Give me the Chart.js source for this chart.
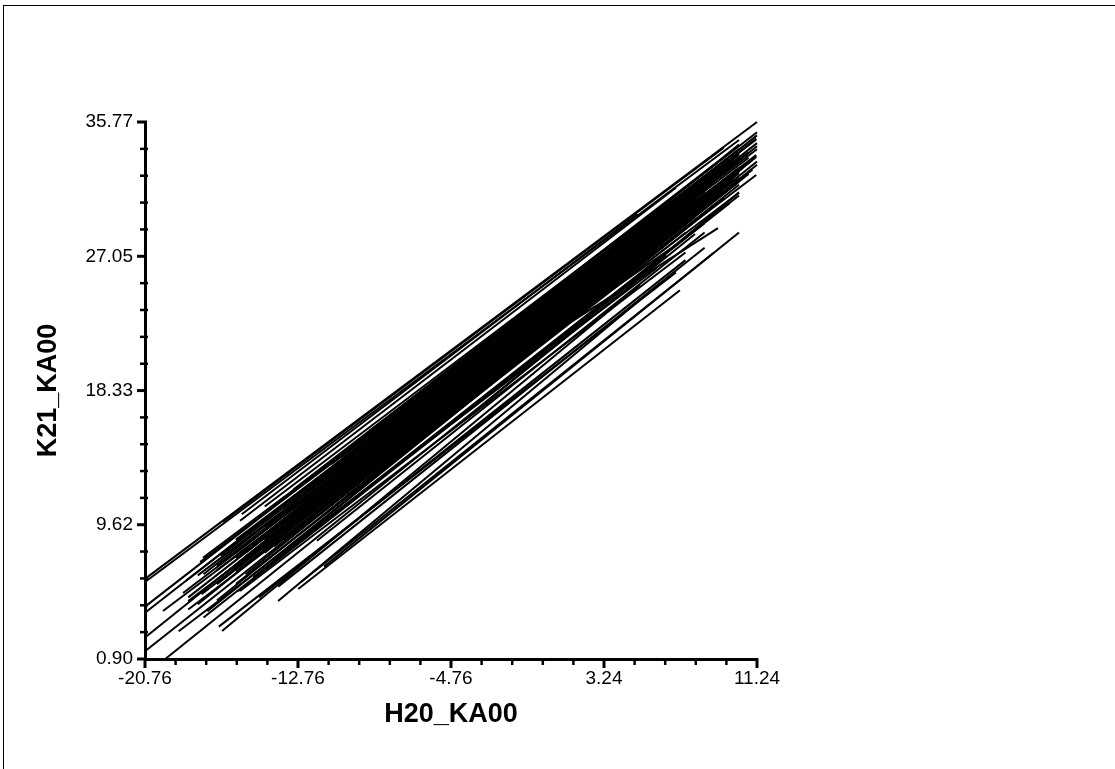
<!DOCTYPE html>
<html>
<head>
<meta charset="utf-8">
<script src="https://cdn.jsdelivr.net/npm/chart.js@4/dist/chart.umd.min.js"></script>
<style>
  html, body { margin: 0; padding: 0; background: #fff; overflow: hidden; }
  #frame { position: absolute; left: 3px; top: 5px; width: 2000px; height: 2000px;
           border-top: 1px solid #000; border-left: 1px solid #000; }
  #wrap { position: absolute; left: 0; top: 0; width: 1115px; height: 769px; }
</style>
</head>
<body>
<div id="frame"></div>
<div id="wrap"><canvas id="chart" width="1115" height="769"></canvas></div>
<script>
// axis ticks
const xTickValues = [-20.76, -12.76, -4.76, 3.24, 11.24];
const xTickLabels = ['-20.76', '-12.76', '-4.76', '3.24', '11.24'];
const yTickValues = [0.90, 9.62, 18.33, 27.05, 35.77];
const yTickLabels = ['0.90', '9.62', '18.33', '27.05', '35.77'];

// line segments (start / end)
const segStartX = [-20.76, -20.76, -16.70, -15.70, -20.76, -20.76, -20.76, -20.76, -19.70, -17.88,
                   -17.70, -17.80, -17.50, -17.70, -18.77, -19.82, -16.80, -16.20, -15.50, -15.10,
                   -14.50, -14.00, -13.40, -12.80, -12.20, -11.60, -11.00, -10.30, -9.70, -9.00,
                   -8.40, -7.70, -7.00, -15.90, -14.80, -13.80, -12.60, -11.40, -16.90, -19.00,
                   -16.73, -13.80, -12.75, -2.00, -6.00, -11.77, -15.79, -17.73, -15.79, -14.50,
                   -13.00, -10.50, -6.00, -4.00, -18.60, -16.00, -5.00, -3.00,
                   -16.0, -13.5, -18.5, -11.0, -17.0, -14.5, -12.0, -9.5, -18.5, -16.0,
                   -13.5, -11.0, -17.0, -14.5, -12.0, -9.5, -18.0, -16.0, -13.5, -11.0,
                   -17.0, -14.5, -12.0, -9.5, -18.5, -16.0, -13.5, -11.0, -17.0, -14.5,
                   -12.0, -9.5, -18.0, -16.0, -13.5, -11.0, -17.0, -14.5, -12.0, -9.5,
                   -16.0, -13.5, -11.0, -15.0, -12.5, -9.0, -15.5, -10.0, -15.5, -7.0,
                   -6.0, -6.0, -8.0, -4.0, -5.0, -10.0];
const segStartY = [6.10, 5.90, 9.80, 10.30, 4.30, 3.90, 2.30, 1.40, 0.90, 7.20,
                   6.40, 5.10, 4.00, 3.60, 5.19, 4.02, 7.60, 6.80, 7.80, 6.20,
                   8.90, 8.20, 9.70, 9.40, 10.60, 10.30, 11.20, 11.40, 12.30, 12.60,
                   13.20, 13.80, 14.60, 5.30, 4.90, 5.60, 5.90, 6.90, 3.00, 2.70,
                   2.72, 4.67, 5.45, 20.00, 16.50, 8.58, 5.32, 7.47, 9.88, 10.80,
                   11.90, 14.00, 18.00, 19.50, 6.00, 8.60, 16.00, 17.50,
                   5.78, 7.90, 4.11, 10.93, 4.70, 8.17, 10.26, 12.50, 4.66, 6.58,
                   8.65, 11.86, 5.76, 7.80, 11.07, 13.18, 4.45, 7.46, 9.45, 11.60,
                   6.67, 8.63, 10.75, 13.87, 4.90, 6.90, 10.26, 12.33, 6.05, 9.47,
                   11.51, 13.70, 6.33, 7.78, 9.85, 13.06, 6.96, 9.00, 12.27, 14.38,
                   8.66, 10.70, 13.56, 9.45, 12.35, 15.74, 6.40, 12.20, 7.56, 16.00,
                   17.66, 16.40, 13.80, 19.72, 17.15, 11.50];
const segEndX = [11.24, 10.30, 9.50, 5.00, 11.24, 10.30, 11.24, 10.30, 8.00, 10.30,
                 11.24, 10.30, 9.50, 8.50, 9.00, 8.00, 10.80, 9.80, 8.80, 10.30,
                 11.00, 9.50, 10.30, 10.80, 9.80, 11.24, 10.30, 9.00, 11.24, 8.00,
                 10.30, 9.50, 8.00, 6.50, 7.50, 8.50, 9.00, 10.30, 7.00, 6.00,
                 5.12, 6.17, 7.21, 9.20, 7.21, 8.50, 7.50, 9.80, 7.00, 7.00,
                 9.00, 10.30, 10.30, 11.24, 10.30, 11.24, 9.80, 10.30,
                 7.5, 9.0, 10.3, 8.0, 9.8, 11.2, 8.5, 10.0, 7.5, 9.0,
                 10.3, 8.0, 9.8, 11.2, 8.5, 10.0, 7.5, 9.0, 10.3, 8.0,
                 9.8, 11.2, 8.5, 10.0, 7.5, 9.0, 10.3, 8.0, 9.8, 11.2,
                 8.5, 10.0, 7.5, 9.0, 10.3, 8.0, 9.8, 11.2, 8.5, 10.0,
                 9.0, 10.3, 8.0, 9.8, 11.2, 8.5, 9.5, 7.0, 10.5, 9.5,
                 10.8, 8.8, 6.8, 9.2, 11.0, 6.0];
const segEndY = [35.77, 34.60, 34.10, 29.80, 35.10, 34.00, 34.20, 31.90, 28.50, 33.40,
                 34.90, 32.20, 30.80, 29.20, 31.50, 30.00, 33.80, 32.30, 31.30, 31.00,
                 33.30, 31.30, 32.80, 32.40, 32.20, 33.00, 32.60, 30.80, 33.20, 29.40,
                 31.70, 30.80, 29.60, 27.10, 26.80, 27.60, 27.30, 28.60, 26.00, 26.30,
                 25.17, 25.30, 24.84, 28.88, 27.97, 28.60, 27.30, 33.10, 31.50, 31.00,
                 33.00, 34.00, 34.30, 34.40, 33.70, 34.00, 30.50, 31.20,
                 28.58, 30.40, 31.18, 29.36, 31.50, 32.33, 30.15, 32.00, 29.10, 30.83,
                 32.45, 29.72, 31.76, 33.50, 30.34, 32.10, 29.95, 30.96, 32.54, 30.60,
                 31.86, 33.56, 31.25, 32.20, 30.13, 31.90, 32.63, 30.76, 32.85, 33.63,
                 31.40, 33.20, 30.30, 32.03, 33.65, 30.92, 32.96, 34.70, 31.54, 33.30,
                 32.16, 33.79, 31.42, 33.51, 34.63, 32.19, 31.40, 29.20, 32.79, 32.50,
                 33.45, 31.20, 28.60, 32.52, 32.67, 27.50];

const datasets = segStartX.map((x0, i) => ({
  data: [{ x: x0, y: segStartY[i] }, { x: segEndX[i], y: segEndY[i] }],
  showLine: true,
  borderColor: '#000',
  borderWidth: 2,
  pointRadius: 0,
  clip: false
}));

// axis tick marks, major and minor
const tickMarks = {
  id: 'tickMarks',
  afterDraw(chart) {
    const ctx = chart.ctx;
    const xs = chart.scales.x, ys = chart.scales.y;
    function seg(x1, y1, x2, y2, w) {
      ctx.lineWidth = w;
      ctx.beginPath(); ctx.moveTo(x1, y1); ctx.lineTo(x2, y2); ctx.stroke();
    }
    ctx.save();
    ctx.strokeStyle = '#000';
    const base = xs.top;
    xTickValues.forEach((v, i) => {
      const px = xs.getPixelForValue(v);
      seg(px, base - 1, px, base + 9, 3);
      if (i < xTickValues.length - 1) {
        const step = (xTickValues[i + 1] - v) / 5;
        for (let k = 1; k < 5; k++) {
          const p = xs.getPixelForValue(v + k * step);
          seg(p, base - 1, p, base + 6, 2.5);
        }
      }
    });
    const left = ys.right;
    yTickValues.forEach((v, i) => {
      const py = ys.getPixelForValue(v);
      seg(left - 8, py, left + 2, py, 3);
      if (i < yTickValues.length - 1) {
        const step = (yTickValues[i + 1] - v) / 5;
        for (let k = 1; k < 5; k++) {
          const p = ys.getPixelForValue(v + k * step);
          seg(left - 5, p, left + 3, p, 2.5);
        }
      }
    });
    ctx.restore();
  }
};

const tickFont = { family: '"Liberation Sans", Arial, sans-serif', size: 19 };
const titleFont = { family: '"Liberation Sans", Arial, sans-serif', size: 27, weight: 'bold' };

new Chart(document.getElementById('chart'), {
  type: 'scatter',
  data: { datasets: datasets },
  plugins: [tickMarks],
  options: {
    responsive: false,
    animation: false,
    devicePixelRatio: 1,
    layout: { padding: { left: 0, top: 122, right: 358, bottom: 0 } },
    plugins: { legend: { display: false }, tooltip: { enabled: false } },
    scales: {
      x: {
        type: 'linear',
        min: -20.76,
        max: 11.24,
        afterBuildTicks: s => { s.ticks = xTickValues.map(v => ({ value: v })); },
        afterFit: s => { s.height = 110; },
        grid: { display: false, drawTicks: false },
        border: { display: true, color: '#000', width: 3 },
        ticks: {
          color: '#000',
          font: tickFont,
          padding: 8,
          maxRotation: 0,
          autoSkip: false,
          callback: (v, i) => xTickLabels[i]
        },
        title: { display: true, text: 'H20_KA00', color: '#000', font: titleFont, padding: { top: 0, bottom: 38 } }
      },
      y: {
        type: 'linear',
        min: 0.90,
        max: 35.77,
        afterBuildTicks: s => { s.ticks = yTickValues.map(v => ({ value: v })); },
        afterFit: s => { s.width = 145; },
        grid: { display: false, drawTicks: false },
        border: { display: true, color: '#000', width: 3 },
        ticks: {
          color: '#000',
          font: tickFont,
          padding: 12,
          autoSkip: false,
          callback: (v, i) => yTickLabels[i]
        },
        title: { display: true, text: 'K21_KA00', color: '#000', font: titleFont, padding: { top: 32, bottom: 0 } }
      }
    }
  }
});
</script>
</body>
</html>
